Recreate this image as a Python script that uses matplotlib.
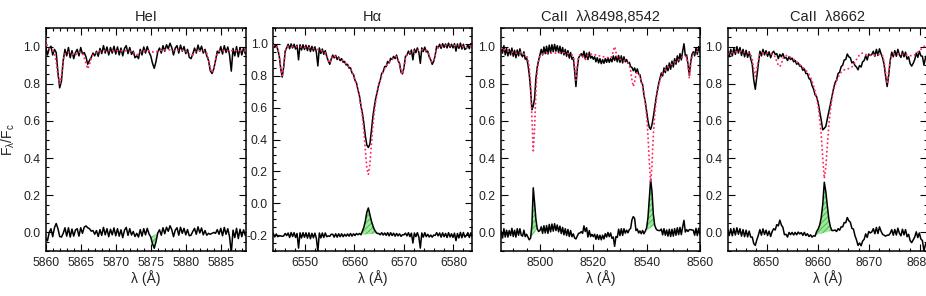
import numpy as np
import matplotlib
matplotlib.use("Agg")
import matplotlib.pyplot as plt
from matplotlib.ticker import MultipleLocator, FormatStrFormatter

plt.rcParams['font.family'] = ['Liberation Sans', 'DejaVu Sans']
plt.rcParams['mathtext.default'] = 'regular'
plt.rcParams['hatch.linewidth'] = 0.6

# ---------------- data ----------------
titles = ["HeI", "H\u03b1", "CaII  \u03bb\u03bb8498,8542", "CaII  \u03bb8662"]

# wavelength sampling (start, step in Angstrom)
he_start, he_step = 5860.0, 0.25
ha_start, ha_step = 6543.6, 0.3
ca1_start, ca1_step = 8485.5, 0.5
ca2_start, ca2_step = 8642.4, 0.3

# residual offsets (observed - model + offset)
he_off, ha_off, ca1_off, ca2_off = 0.0, -0.2, 0.0, 0.0

he_obs = [1.000, 0.955, 0.990, 1.002, 0.955, 0.985, 0.968, 0.860, 0.778, 0.815,
          0.925, 0.985, 0.950, 0.995, 0.940, 0.978, 0.935, 0.968, 0.985, 0.950,
          0.995, 0.960, 0.968, 0.945, 0.905, 0.925, 0.942, 0.965, 0.950, 0.975,
          0.948, 0.990, 0.962, 1.005, 0.965, 0.998, 0.955, 0.995, 0.965, 1.002,
          0.960, 0.998, 0.955, 0.992, 0.950, 0.990, 1.005, 0.962, 0.995, 0.958,
          0.975, 0.940, 0.950, 0.935, 0.985, 0.955, 0.998, 0.965, 1.000, 0.970,
          0.950, 0.910, 0.883, 0.920, 0.972, 0.992, 0.965, 1.005, 0.975, 1.010,
          0.988, 1.018, 0.995, 0.955, 0.992, 1.005, 0.965, 1.008, 0.975, 1.000,
          0.962, 0.985, 0.942, 0.935, 0.960, 0.992, 0.965, 1.008, 0.975, 1.002,
          0.965, 0.985, 0.950, 0.925, 0.870, 0.855, 0.880, 0.925, 0.975, 0.965,
          1.000, 0.960, 1.005, 0.968, 0.998, 0.955, 0.868, 0.990, 0.950, 1.000,
          0.945, 0.995, 0.955, 0.992, 0.962]
he_model = [1.030, 1.000, 0.990, 0.982, 0.978, 0.960, 0.920, 0.840, 0.800, 0.840,
            0.930, 0.960, 0.970, 0.970, 0.965, 0.960, 0.955, 0.955, 0.965, 0.970,
            0.970, 0.965, 0.940, 0.910, 0.880, 0.905, 0.935, 0.955, 0.960, 0.965,
            0.970, 0.975, 0.978, 0.978, 0.978, 0.978, 0.978, 0.978, 0.978, 0.978,
            0.978, 0.978, 0.975, 0.978, 0.978, 0.978, 0.978, 0.978, 0.975, 0.972,
            0.970, 0.962, 0.955, 0.960, 0.970, 0.975, 0.978, 0.978, 0.978, 0.978,
            0.975, 0.972, 0.968, 0.970, 0.975, 0.978, 0.980, 0.980, 0.982, 0.982,
            0.982, 0.982, 0.980, 0.978, 0.980, 0.980, 0.980, 0.980, 0.980, 0.978,
            0.975, 0.970, 0.960, 0.950, 0.955, 0.970, 0.975, 0.978, 0.978, 0.978,
            0.978, 0.975, 0.965, 0.930, 0.880, 0.860, 0.880, 0.930, 0.960, 0.975,
            0.978, 0.978, 0.978, 0.978, 0.978, 0.978, 0.978, 0.978, 0.978, 0.978,
            0.978, 0.978, 0.978, 0.978, 0.978]

ha_obs = [1.000, 0.978, 0.995, 0.965, 0.925, 0.845, 0.792, 0.855, 0.955, 0.975,
          0.998, 0.970, 1.000, 0.975, 0.998, 0.968, 0.992, 0.900, 0.995, 0.962,
          0.995, 0.965, 0.992, 0.958, 0.990, 0.952, 0.985, 0.955, 0.982, 0.948,
          0.862, 0.975, 0.940, 0.968, 0.935, 0.958, 0.920, 0.895, 0.872, 0.905,
          0.930, 0.912, 0.928, 0.902, 0.918, 0.895, 0.908, 0.885, 0.890, 0.868,
          0.872, 0.848, 0.850, 0.818, 0.808, 0.772, 0.755, 0.712, 0.675, 0.612,
          0.565, 0.500, 0.420, 0.365, 0.350, 0.370, 0.450, 0.540, 0.605, 0.660,
          0.700, 0.745, 0.772, 0.815, 0.825, 0.858, 0.858, 0.890, 0.880, 0.910,
          0.902, 0.922, 0.908, 0.930, 0.895, 0.878, 0.822, 0.812, 0.852, 0.922,
          0.930, 0.955, 0.935, 0.962, 0.900, 0.968, 0.945, 0.975, 0.948, 0.878,
          0.975, 0.952, 0.980, 0.950, 0.955, 0.918, 0.900, 0.872, 0.890, 0.928,
          0.985, 0.975, 0.998, 0.972, 1.002, 0.978, 1.000, 0.975, 1.005, 0.978,
          0.998, 0.975, 1.002, 0.955, 1.000, 0.972, 1.005, 0.968, 0.998, 0.965,
          0.972, 0.995, 0.970, 1.002, 0.980]
ha_model = [0.990, 0.990, 0.988, 0.975, 0.930, 0.850, 0.800, 0.860, 0.945, 0.978,
            0.985, 0.985, 0.984, 0.984, 0.983, 0.983, 0.982, 0.982, 0.981, 0.980,
            0.980, 0.979, 0.978, 0.977, 0.976, 0.975, 0.974, 0.972, 0.970, 0.968,
            0.965, 0.962, 0.958, 0.955, 0.950, 0.945, 0.930, 0.900, 0.880, 0.900,
            0.925, 0.925, 0.920, 0.915, 0.910, 0.905, 0.900, 0.895, 0.885, 0.875,
            0.865, 0.855, 0.840, 0.825, 0.800, 0.775, 0.745, 0.710, 0.665, 0.610,
            0.540, 0.450, 0.330, 0.220, 0.180, 0.240, 0.360, 0.480, 0.570, 0.640,
            0.690, 0.735, 0.770, 0.800, 0.825, 0.845, 0.860, 0.875, 0.885, 0.895,
            0.905, 0.910, 0.915, 0.920, 0.900, 0.870, 0.830, 0.810, 0.850, 0.910,
            0.935, 0.940, 0.945, 0.950, 0.950, 0.955, 0.955, 0.960, 0.960, 0.960,
            0.962, 0.965, 0.965, 0.960, 0.950, 0.930, 0.900, 0.885, 0.890, 0.930,
            0.970, 0.980, 0.985, 0.985, 0.988, 0.988, 0.990, 0.990, 0.990, 0.990,
            0.990, 0.990, 0.990, 0.990, 0.990, 0.990, 0.988, 0.985, 0.982, 0.978,
            0.975, 0.980, 0.985, 0.988, 0.990]

ca1_obs = [0.995, 0.965, 1.005, 0.955, 0.990, 0.950, 0.985, 0.955, 0.992, 0.948,
           0.980, 0.940, 0.982, 0.950, 0.988, 0.955, 0.945, 0.972, 0.932, 0.940,
           0.905, 0.850, 0.770, 0.660, 0.680, 0.720, 0.830, 0.890, 0.925, 0.955,
           0.985, 0.955, 0.998, 0.962, 1.002, 0.960, 1.008, 0.968, 1.010, 0.972,
           1.012, 0.975, 1.005, 0.968, 1.002, 0.962, 0.995, 0.955, 0.985, 0.948,
           0.978, 0.938, 0.968, 0.932, 0.942, 0.870, 0.785, 0.880, 0.940, 0.952,
           0.962, 0.945, 0.975, 0.935, 0.965, 0.930, 0.970, 0.938, 0.948, 0.932,
           0.945, 0.918, 0.940, 0.912, 0.935, 0.908, 0.930, 0.910, 0.935, 0.915,
           0.940, 0.915, 0.935, 0.918, 0.950, 0.925, 0.948, 0.918, 0.952, 0.915,
           0.950, 0.912, 0.945, 0.918, 0.930, 0.910, 0.915, 0.892, 0.888, 0.870,
           0.885, 0.860, 0.880, 0.852, 0.848, 0.808, 0.795, 0.738, 0.702, 0.650,
           0.600, 0.565, 0.555, 0.580, 0.620, 0.670, 0.720, 0.762, 0.800, 0.830,
           0.858, 0.842, 0.885, 0.860, 0.898, 0.870, 0.912, 0.878, 0.922, 0.890,
           0.935, 0.905, 0.950, 0.918, 0.962, 0.928, 0.975, 1.015, 0.952, 0.955,
           0.905, 0.845, 0.915, 0.958, 0.972, 0.950, 0.992, 0.958, 1.000, 0.970]
ca1_model = [0.990, 0.995, 0.985, 0.980, 0.978, 0.975, 0.975, 0.972, 0.970, 0.970,
             0.968, 0.965, 0.962, 0.965, 0.968, 0.970, 0.965, 0.960, 0.955, 0.950,
             0.930, 0.890, 0.800, 0.620, 0.440, 0.560, 0.760, 0.870, 0.920, 0.945,
             0.955, 0.960, 0.962, 0.965, 0.965, 0.965, 0.965, 0.965, 0.965, 0.965,
             0.965, 0.965, 0.965, 0.965, 0.968, 0.968, 0.968, 0.968, 0.965, 0.965,
             0.962, 0.960, 0.958, 0.955, 0.950, 0.900, 0.820, 0.900, 0.945, 0.955,
             0.958, 0.950, 0.940, 0.930, 0.940, 0.955, 0.960, 0.960, 0.958, 0.955,
             0.955, 0.955, 0.952, 0.950, 0.950, 0.948, 0.945, 0.945, 0.942, 0.940,
             0.940, 0.938, 0.938, 0.950, 0.975, 1.000, 0.970, 0.945, 0.935, 0.932,
             0.930, 0.928, 0.925, 0.922, 0.918, 0.912, 0.900, 0.870, 0.820, 0.785,
             0.810, 0.850, 0.862, 0.855, 0.840, 0.815, 0.785, 0.745, 0.695, 0.625,
             0.520, 0.380, 0.270, 0.360, 0.520, 0.630, 0.700, 0.750, 0.790, 0.820,
             0.840, 0.855, 0.865, 0.875, 0.885, 0.890, 0.895, 0.900, 0.905, 0.910,
             0.915, 0.920, 0.925, 0.930, 0.935, 0.940, 0.945, 0.950, 0.950, 0.940,
             0.900, 0.830, 0.900, 0.945, 0.960, 0.965, 0.970, 0.975, 0.978, 0.980]

ca2_obs = [0.975, 0.945, 0.985, 0.950, 0.992, 0.958, 1.000, 0.965, 0.995, 0.952,
           0.985, 0.945, 0.980, 0.942, 0.972, 0.935, 0.905, 0.820, 0.770, 0.840,
           0.915, 0.975, 0.950, 0.985, 0.955, 0.978, 0.948, 0.972, 0.940, 0.965,
           0.975, 0.958, 0.962, 0.935, 0.958, 0.945, 0.962, 0.938, 0.942, 0.925,
           0.945, 0.930, 0.938, 0.918, 0.925, 0.905, 0.912, 0.895, 0.895, 0.872,
           0.880, 0.855, 0.855, 0.828, 0.822, 0.790, 0.772, 0.740, 0.730, 0.698,
           0.652, 0.605, 0.552, 0.560, 0.570, 0.612, 0.650, 0.690, 0.730, 0.772,
           0.805, 0.820, 0.855, 0.862, 0.892, 0.900, 0.928, 0.930, 0.960, 0.945,
           0.940, 0.912, 0.918, 0.898, 0.890, 0.875, 0.898, 0.890, 0.918, 0.925,
           0.950, 0.928, 0.960, 0.952, 0.958, 0.975, 0.948, 0.985, 0.952, 0.988,
           0.962, 0.940, 0.905, 0.840, 0.785, 0.845, 0.925, 0.970, 0.945, 0.978,
           0.948, 0.985, 0.955, 0.942, 0.975, 0.945, 0.970, 0.932, 0.945, 0.908,
           0.895, 0.910, 0.930, 0.965, 0.942, 0.975, 0.950, 0.948, 0.900, 0.940,
           0.955]
ca2_model = [0.960, 0.962, 0.965, 0.968, 0.970, 0.972, 0.975, 0.975, 0.975, 0.972,
             0.970, 0.968, 0.968, 0.966, 0.965, 0.960, 0.930, 0.880, 0.840, 0.880,
             0.930, 0.960, 0.965, 0.966, 0.966, 0.966, 0.965, 0.965, 0.962, 0.960,
             0.955, 0.945, 0.920, 0.900, 0.892, 0.905, 0.935, 0.950, 0.952, 0.950,
             0.945, 0.942, 0.938, 0.932, 0.925, 0.918, 0.910, 0.903, 0.896, 0.888,
             0.880, 0.872, 0.862, 0.850, 0.835, 0.815, 0.790, 0.760, 0.725, 0.680,
             0.612, 0.525, 0.400, 0.290, 0.350, 0.470, 0.580, 0.660, 0.720, 0.762,
             0.792, 0.815, 0.835, 0.850, 0.862, 0.870, 0.875, 0.878, 0.880, 0.882,
             0.885, 0.890, 0.900, 0.915, 0.930, 0.945, 0.955, 0.962, 0.965, 0.962,
             0.958, 0.955, 0.955, 0.955, 0.955, 0.955, 0.955, 0.958, 0.958, 0.958,
             0.955, 0.950, 0.920, 0.860, 0.800, 0.860, 0.930, 0.955, 0.960, 0.962,
             0.962, 0.962, 0.960, 0.960, 0.958, 0.958, 0.955, 0.955, 0.955, 0.952,
             0.950, 0.950, 0.955, 0.962, 0.970, 0.978, 0.985, 0.992, 1.000, 1.005,
             1.005]

# index ranges of the shaded (green) residual features
he_fill = [(60, 64)]
ha_fill = [(59, 70)]
ca1_fill = [(21, 27), (108, 115)]
ca2_fill = [(56, 68)]

xlims = [(5860.0, 5888.6), (6543.6, 6583.8), (8485.3, 8560.0), (8642.4, 8681.4)]
ylims = [(-0.1, 1.1), (-0.3, 1.1), (-0.1, 1.1), (-0.1, 1.1)]
xminor = [1, 2, 5, 2]
xticks = [[5860, 5865, 5870, 5875, 5880, 5885],
          [6550, 6560, 6570, 6580],
          [8500, 8520, 8540, 8560],
          [8650, 8660, 8670, 8680]]
yticks = [[0.0, 0.2, 0.4, 0.6, 0.8, 1.0],
          [-0.2, 0.0, 0.2, 0.4, 0.6, 0.8, 1.0],
          [0.0, 0.2, 0.4, 0.6, 0.8, 1.0],
          [0.0, 0.2, 0.4, 0.6, 0.8, 1.0]]

panels = [
    (he_start, he_step, he_obs, he_model, he_off, he_fill),
    (ha_start, ha_step, ha_obs, ha_model, ha_off, ha_fill),
    (ca1_start, ca1_step, ca1_obs, ca1_model, ca1_off, ca1_fill),
    (ca2_start, ca2_step, ca2_obs, ca2_model, ca2_off, ca2_fill),
]

# ---------------- figure ----------------
W, H = 926, 296
fig = plt.figure(figsize=(W / 100, H / 100), dpi=100)
lefts = [45.7, 273.3, 500.7, 727.7]
widths = [200.3, 199.0, 199.3, 199.3]
bottom_px, height_px = 45.0, 223.0

txt = '#222222'
red = '#ff2d62'
green_face = '#9ee89e'
green_hatch = '#3cb43c'

for k, (start, step, obs, model, off, fills) in enumerate(panels):
    ax = fig.add_axes([lefts[k] / W, bottom_px / H, widths[k] / W, height_px / H])
    obs = np.asarray(obs)
    model = np.asarray(model)
    wl = start + step * np.arange(len(obs))
    resid = obs - model + off

    for a, b in fills:
        ax.fill(wl[a:b + 1], resid[a:b + 1], facecolor=green_face,
                edgecolor=green_hatch, hatch='//////', linewidth=0, zorder=1)
    ax.plot(wl, model, color=red, lw=1.4, ls=(0, (0.1, 2.1)),
            dash_capstyle='round', zorder=3)
    ax.plot(wl, obs, color='black', lw=1.1, zorder=2)
    ax.plot(wl, resid, color='black', lw=1.1, zorder=2)

    ax.set_xlim(*xlims[k])
    ax.set_ylim(*ylims[k])
    ax.set_xticks(xticks[k])
    ax.xaxis.set_minor_locator(MultipleLocator(xminor[k]))
    ax.set_yticks(yticks[k])
    ax.yaxis.set_minor_locator(MultipleLocator(0.05))
    ax.yaxis.set_major_formatter(FormatStrFormatter('%.1f'))
    ax.tick_params(which='both', direction='in', top=True, right=True,
                   colors='black', labelcolor=txt, labelsize=8.8, width=0.8)
    ax.tick_params(which='major', length=5, pad=4)
    ax.tick_params(which='minor', length=2.5)
    for s in ax.spines.values():
        s.set_linewidth(1.1)
    ax.set_title(titles[k], fontsize=10.5, color=txt, pad=5)
    ax.set_xlabel('\u03bb (\u00c5)', fontsize=10, color=txt, labelpad=1)
    if k == 0:
        ax.set_ylabel('F$_{\u03bb}$/F$_{c}$', fontsize=10, color=txt, labelpad=4)

fig.savefig('out.png', dpi=100)
